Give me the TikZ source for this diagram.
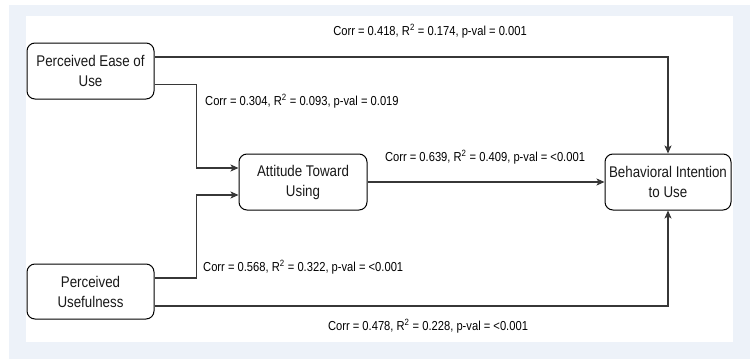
\documentclass[tikz,border=0pt]{standalone}
\usepackage{fontspec}
\setmainfont{Liberation Sans}[FakeStretch=0.86]
\usetikzlibrary{arrows.meta}
\definecolor{outerbg}{RGB}{237,242,249}
\definecolor{linegrey}{RGB}{55,55,55}
\definecolor{boxtext}{RGB}{25,25,25}
\tikzset{
  box/.style={draw=black, line width=1pt, rounded corners=8pt, fill=white,
    minimum width=#1, minimum height=56pt, align=center, inner sep=0pt,
    text=boxtext, font=\fontsize{15.5}{20}\selectfont},
  box/.default=127pt,
  arr/.style={draw=linegrey, line width=1.1pt,
    -{Stealth[length=8pt,width=7pt,inset=2pt]}},
  lbl/.style={inner sep=0pt, text=black, font=\fontsize{13}{14}\selectfont}
}
\begin{document}
\begin{tikzpicture}[x=1pt,y=-1pt]
\useasboundingbox (0,0) rectangle (750,359);
\fill[white] (0,0) rectangle (750,359);
\fill[outerbg] (9,5) rectangle (750,359);
\fill[white] (26,16) rectangle (733,342);

\node[box=127pt] (peou) at (90.5,71) {Perceived Ease of\\Use};
\node[box=127pt, minimum height=55pt] (pu) at (90.5,291.5) {Perceived\\Usefulness};
\node[box=128pt] (atu) at (303,182) {Attitude Toward\\Using};
\node[box=126pt] (biu) at (668,182) {Behavioral Intention\\to Use};

\draw[arr] ([yshift=14pt]peou.east) -| (biu.north);
\draw[arr] ([yshift=-13.5pt]peou.east) -- ++(42,0) |- ([yshift=14pt]atu.west);
\draw[arr] ([yshift=13.5pt]pu.east) -- ++(42,0) |- ([yshift=-13pt]atu.west);
\draw[arr] ([yshift=-14.5pt]pu.east) -| (biu.south);
\draw[arr] (atu) -- (biu);

\node[lbl] (l1) at (430,31) {Corr = 0.418, R\textsuperscript{2} = 0.174, p-val = 0.001};
\node[lbl, anchor=west] (l2) at (205,101) {Corr = 0.304, R\textsuperscript{2} = 0.093, p-val = 0.019};
\node[lbl] (l3) at (485,157) {Corr = 0.639, R\textsuperscript{2} = 0.409, p-val = <0.001};
\node[lbl, anchor=west] (l4) at (203,267) {Corr = 0.568, R\textsuperscript{2} = 0.322, p-val = <0.001};
\node[lbl] (l5) at (428,326) {Corr = 0.478, R\textsuperscript{2} = 0.228, p-val = <0.001};
\end{tikzpicture}
\end{document}
